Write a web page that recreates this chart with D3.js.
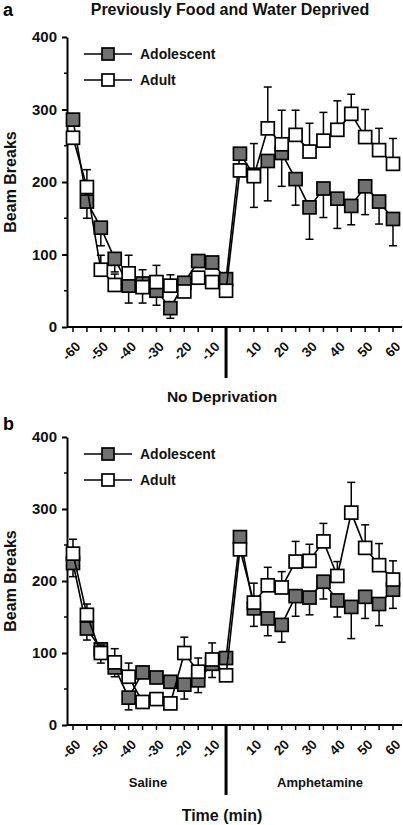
<!DOCTYPE html>
<html><head><meta charset="utf-8">
<script src="https://cdn.jsdelivr.net/npm/d3@7"></script>
<style>body{margin:0;background:#fff}svg{display:block;font-family:"Liberation Sans",Arial,sans-serif}</style>
</head><body>
<svg id="c" width="403" height="825"></svg>
<script>
// time points (min)
const times = [-60,-55,-50,-45,-40,-35,-30,-25,-20,-15,-10,-5,5,10,15,20,25,30,35,40,45,50,55,60];
const tickLabelTimes = [-60,-50,-40,-30,-20,-10,10,20,30,40,50,60];
const dividerTime = -5;
const yTicks = [0,100,200,300,400];
const yMinorTicks = [50,150,250,350];
const seriesNames = ["Adolescent","Adult"];

// Panel a: Previously Food and Water Deprived
const adolA = [286,173,137,94,57,60,50,26,61,91,89,66, 239,210,229,240,204,165,191,177,167,194,173,149];
const adultA = [261,193,79,58,74,55,62,57,49,68,62,50, 216,208,274,252,265,242,257,272,294,262,244,225];
// signed error bars (+ drawn upward, - drawn downward)
const adolAErr = [5,-23,-25,-18,-24,-27,-20,-14,5,5,5,5, 5,-45,-55,-46,-36,-44,-40,-41,-26,-39,-31,-37];
const adultAErr = [-5,24,20,15,25,24,23,15,-5,-5,-5,-5, -5,45,57,47,34,39,39,40,27,38,30,35];

// Panel b: No Deprivation
const adolB = [225,134,105,80,38,73,66,60,56,62,85,93, 261,162,148,139,179,177,199,173,164,178,168,188];
const adultB = [238,153,100,87,67,32,36,30,100,74,91,69, 244,170,194,191,227,228,255,207,295,246,222,202];
const adolBErr = [-19,-16,-19,-13,-17,8,8,8,-20,-17,-19,5, 5,-25,-24,-24,-28,-24,-24,-23,-44,-30,-30,-26];
const adultBErr = [20,15,11,19,19,-6,-6,-6,22,19,23,-5, -5,27,25,22,28,23,25,20,42,32,30,26];

const svg = d3.select("#c");
const fills = {"Adolescent":"#707070","Adult":"#ffffff"};
const x = d3.scalePoint().domain(times).range([73,393]);
const axisX0 = 67, axisX1 = 402;

function panel(opt){
  const y = d3.scaleLinear().domain([0,400]).range([opt.y0, opt.yTop]);
  const g = svg.append("g");
  // y axis
  const ya = g.append("g").attr("transform",`translate(${axisX0},0)`)
    .call(d3.axisLeft(y).tickValues(yTicks).tickSize(5).tickSizeOuter(0));
  ya.select(".domain").attr("stroke","#000").attr("stroke-width",2);
  ya.selectAll(".tick line").attr("stroke-width",2);
  ya.selectAll(".tick text").attr("font-size",15).attr("font-weight","bold").attr("fill","#111").attr("dx",-2);
  g.append("g").selectAll("line").data(yMinorTicks).join("line")
    .attr("x1",axisX0-3).attr("x2",axisX0).attr("y1",d=>y(d)).attr("y2",d=>y(d))
    .attr("stroke","#000").attr("stroke-width",1.5);
  // x axis
  g.append("line").attr("x1",axisX0).attr("x2",axisX1).attr("y1",opt.y0).attr("y2",opt.y0)
    .attr("stroke","#000").attr("stroke-width",2);
  g.append("g").selectAll("line").data(times.filter(t=>t!==dividerTime)).join("line")
    .attr("x1",d=>x(d)).attr("x2",d=>x(d)).attr("y1",opt.y0).attr("y2",opt.y0+5)
    .attr("stroke","#000").attr("stroke-width",1.5);
  g.append("line").attr("x1",x(dividerTime)).attr("x2",x(dividerTime))
    .attr("y1",opt.y0).attr("y2",opt.divBottom).attr("stroke","#000").attr("stroke-width",3);
  g.append("g").selectAll("text").data(tickLabelTimes).join("text")
    .attr("transform",d=>`translate(${x(d)+5},${opt.y0+17}) rotate(-45)`)
    .attr("text-anchor","end").attr("dy","0.35em")
    .attr("font-size",13.5).attr("font-weight","bold").attr("fill","#111")
    .text(d=>d);
  // y label
  g.append("text").attr("transform",`translate(16,${(opt.y0+opt.yTop)/2}) rotate(-90)`)
    .attr("text-anchor","middle").attr("font-size",16).attr("fill","#111").attr("font-weight",600)
    .text("Beam Breaks");
  // series
  const series = [
    {name:"Adolescent", vals:opt.adol, err:opt.adolErr},
    {name:"Adult", vals:opt.adult, err:opt.adultErr}
  ];
  const line = d3.line().x((d,i)=>x(times[i])).y(d=>y(d));
  series.forEach(s=>{
    const sg = g.append("g");
    sg.append("g").selectAll("g").data(s.vals).join("g").each(function(v,i){
      const e = s.err[i];
      const yy = y(v), ye = y(v+e), cx = x(times[i]);
      const gg = d3.select(this);
      gg.append("line").attr("x1",cx).attr("x2",cx).attr("y1",yy).attr("y2",ye).attr("stroke","#000").attr("stroke-width",1.5);
      gg.append("line").attr("x1",cx-4).attr("x2",cx+4).attr("y1",ye).attr("y2",ye).attr("stroke","#000").attr("stroke-width",1.5);
    });
    sg.append("path").datum(s.vals).attr("d",line).attr("fill","none").attr("stroke","#000").attr("stroke-width",1.6);
    sg.append("g").selectAll("rect").data(s.vals).join("rect")
      .attr("x",(d,i)=>x(times[i])-6.5).attr("y",d=>y(d)-6.5).attr("width",13).attr("height",13)
      .attr("fill",fills[s.name]).attr("stroke","#000").attr("stroke-width",1.7);
  });
  // legend
  const lg = g.append("g");
  seriesNames.forEach((n,k)=>{
    const ly = opt.yTop + 17 + k*26;
    lg.append("line").attr("x1",84).attr("x2",132).attr("y1",ly).attr("y2",ly).attr("stroke","#000").attr("stroke-width",1.6);
    lg.append("rect").attr("x",102).attr("y",ly-6).attr("width",12).attr("height",12)
      .attr("fill",fills[n]).attr("stroke","#000").attr("stroke-width",1.7);
    lg.append("text").attr("x",140).attr("y",ly).attr("dy","0.35em").attr("font-size",14).attr("font-weight","bold").attr("fill","#111").text(n);
  });
  // panel letter
  g.append("text").attr("x",3).attr("y",opt.letterY).attr("font-size",18).attr("font-weight","bold").text(opt.letter);
  return g;
}

panel({yTop:37,y0:327,divBottom:378,adol:adolA,adult:adultA,adolErr:adolAErr,adultErr:adultAErr,letter:"a",letterY:16});
panel({yTop:437,y0:725,divBottom:795,adol:adolB,adult:adultB,adolErr:adolBErr,adultErr:adultBErr,letter:"b",letterY:430});

svg.append("text").attr("x",230).attr("y",15).attr("text-anchor","middle").attr("font-size",16).attr("font-weight","bold").attr("fill","#111").text("Previously Food and Water Deprived");
svg.append("text").attr("x",222).attr("y",402).attr("text-anchor","middle").attr("font-size",15.5).attr("font-weight","bold").attr("fill","#111").text("No Deprivation");
svg.append("text").attr("x",148).attr("y",787).attr("text-anchor","middle").attr("font-size",13).attr("font-weight","bold").attr("fill","#111").text("Saline");
svg.append("text").attr("x",320).attr("y",787).attr("text-anchor","middle").attr("font-size",13).attr("font-weight","bold").attr("fill","#111").text("Amphetamine");
svg.append("text").attr("x",222).attr("y",821).attr("text-anchor","middle").attr("font-size",16).attr("font-weight","bold").attr("fill","#111").text("Time (min)");
</script>
</body></html>
